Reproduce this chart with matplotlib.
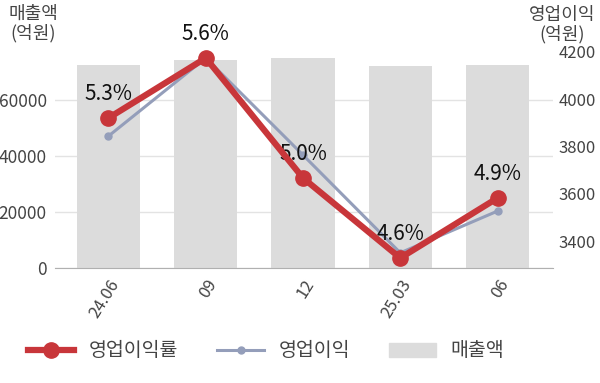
import matplotlib
matplotlib.use("Agg")
import matplotlib.pyplot as plt
from matplotlib.lines import Line2D
from matplotlib.patches import Patch

plt.rcParams['font.family'] = ['Noto Sans CJK KR', 'DejaVu Sans']

categories = ["24.06", "09", "12", "25.03", "06"]
revenue = [72500, 74300, 75000, 72100, 72500]          # 매출액 (억원)
op_profit = [3844, 4173, 3764, 3352, 3528]             # 영업이익 (억원)
op_margin = [5.3, 5.6, 5.0, 4.6, 4.9]                  # 영업이익률 (%)
left_ticks = [0, 20000, 40000, 60000]
right_ticks = [3400, 3600, 3800, 4000, 4200]

fig = plt.figure(figsize=(6.0, 3.83), dpi=100)
ax = fig.add_axes([55/600, 1-268/383, (553-55)/600, (268-44)/383])
x = list(range(len(categories)))

ax.bar(x, revenue, width=0.65, color="#dcdcdc", zorder=2)
ax.set_ylim(0, 80000)
ax.set_yticks(left_ticks)
ax.set_yticklabels([str(v) for v in left_ticks])
ax.set_xlim(-0.55, 4.57)
ax.grid(axis='y', color="#e3e3e3", linewidth=1, zorder=0)
ax.set_axisbelow(True)
for s in ['top', 'left', 'right']:
    ax.spines[s].set_visible(False)
ax.spines['bottom'].set_color("#b0b0b0")
ax.tick_params(axis='y', length=0, pad=6, labelsize=12.5, labelcolor="#444444")
ax.tick_params(axis='x', length=0, pad=6, labelsize=12, labelcolor="#444444")
ax.set_xticks(x)
ax.set_xticklabels(categories, rotation=58, ha='right', rotation_mode='anchor')

ax2 = ax.twinx()
ax2.plot(x, op_profit, color="#949eba", linewidth=2.2, marker='o', markersize=5, zorder=3)
ax2.set_ylim(3288, 4232)
ax2.set_yticks(right_ticks)
ax2.set_yticklabels([str(v) for v in right_ticks])
for s in ['top', 'left', 'right', 'bottom']:
    ax2.spines[s].set_visible(False)
ax2.tick_params(axis='y', length=0, pad=4, labelsize=12, labelcolor="#444444")

ax3 = ax.twinx()
ax3.plot(x, op_margin, color="#c8363a", linewidth=4.5, marker='o', markersize=11, zorder=4)
ax3.set_ylim(4.55, 5.67)
ax3.axis('off')
for xi, v in zip(x, op_margin):
    ax3.annotate(f"{v:.1f}%", (xi, v), xytext=(0, 9), textcoords='offset points',
                 ha='center', va='bottom', fontsize=15, color="#111111")

fig.text(33/600, 1-24/383, "매출액\n(억원)", ha='center', va='center', fontsize=13,
         color="#444444", linespacing=1.1)
fig.text(562/600, 1-25/383, "영업이익\n(억원)", ha='center', va='center', fontsize=13,
         color="#444444", linespacing=1.1)

handles = [
    Line2D([0], [0], color="#c8363a", linewidth=4.5, marker='o', markersize=11),
    Line2D([0], [0], color="#949eba", linewidth=2.2, marker='o', markersize=5),
    Patch(color="#dcdcdc"),
]
fig.legend(handles, ["영업이익률", "영업이익", "매출액"], loc='center left',
           bbox_to_anchor=(20/600, 1-351/383), ncol=3, frameon=False, fontsize=14,
           labelcolor="#444444", handlelength=2.4, columnspacing=2.0, handletextpad=0.75,
           borderaxespad=0)

fig.savefig("out.png", dpi=100)
